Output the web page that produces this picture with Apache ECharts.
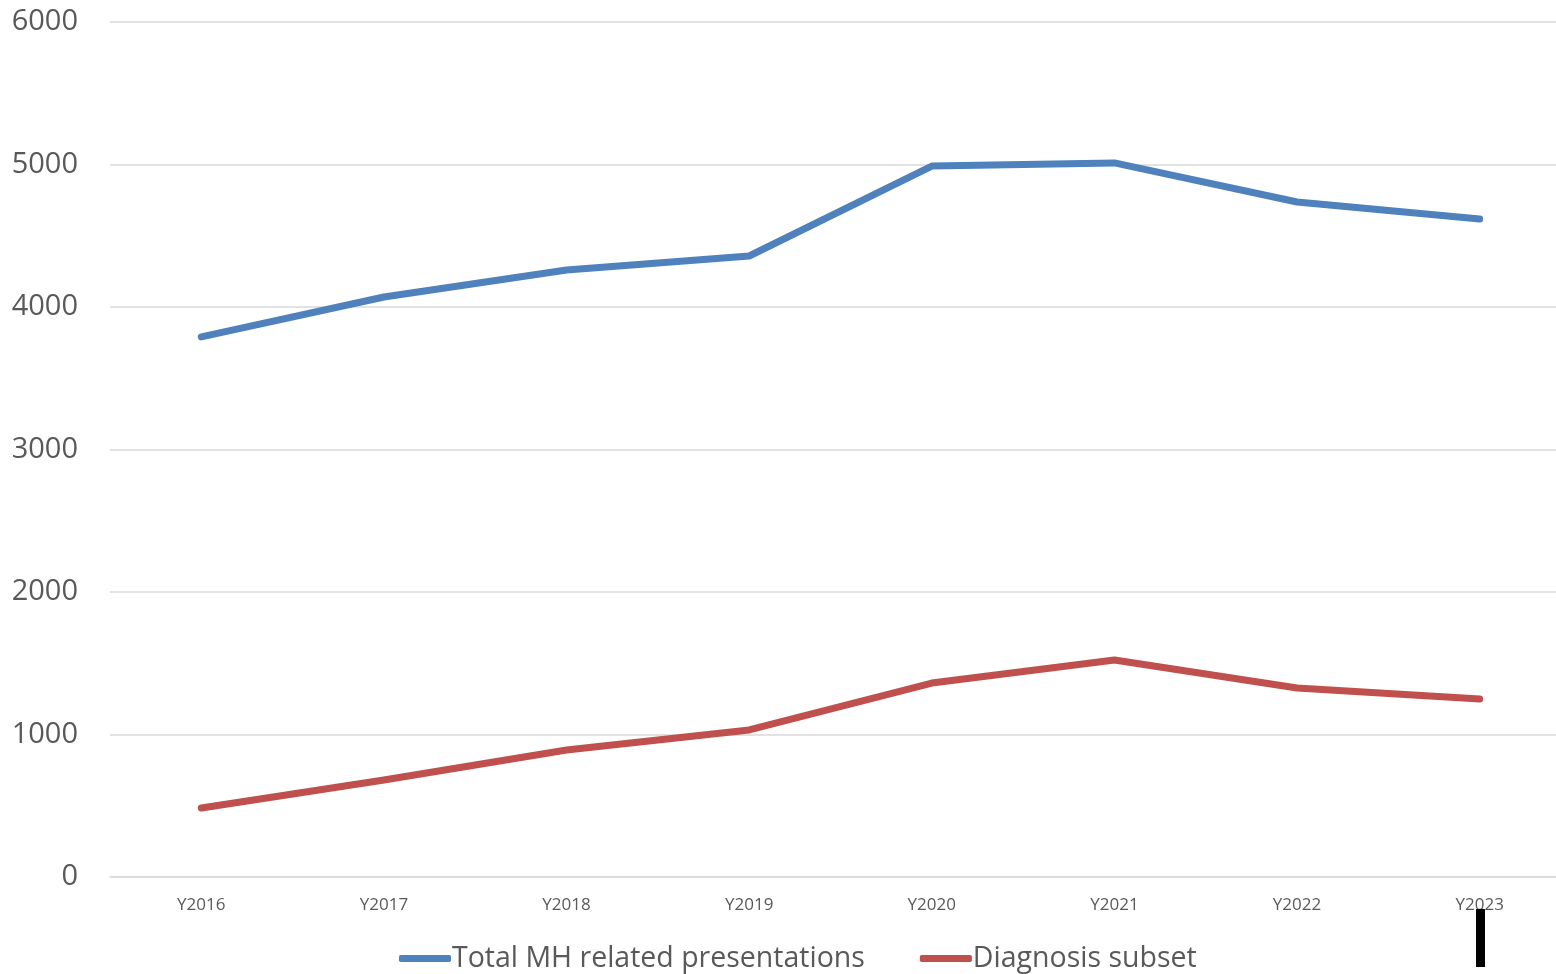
<!DOCTYPE html>
<html>
<head>
<meta charset="utf-8">
<script src="https://cdn.jsdelivr.net/npm/echarts@6/dist/echarts.min.js"></script>
<style>
  html, body { margin: 0; padding: 0; background: #fff; }
  #chart { width: 1556px; height: 974px; }
</style>
</head>
<body>
<div id="chart"></div>
<script>
const years = ["Y2016", "Y2017", "Y2018", "Y2019", "Y2020", "Y2021", "Y2022", "Y2023"];
const totalMH = [3790, 4070, 4260, 4358, 4989, 5011, 4737, 4618];
const diagnosisSubset = [484, 681, 891, 1032, 1361, 1523, 1326, 1249];

const chart = echarts.init(document.getElementById("chart"));

const font = "'Open Sans', 'Liberation Sans', sans-serif";

chart.setOption({
  animation: false,
  grid: { left: 110, right: -15, top: 22, bottom: 97, outerBoundsMode: "none" },
  legend: {
    bottom: -4,
    left: 394,
    itemWidth: 52,
    itemHeight: 7,
    itemGap: 55,
    icon: "roundRect",
    textStyle: { fontFamily: font, fontSize: 28.5, color: "#595959", padding: [0, 0, 0, -4] },
    data: ["Total MH related presentations", "Diagnosis subset"]
  },
  xAxis: {
    type: "category",
    data: years,
    boundaryGap: true,
    axisLine: { lineStyle: { color: "#d9d9d9", width: 1.5 } },
    axisTick: { show: false },
    axisLabel: { fontFamily: font, fontSize: 17, color: "#595959", margin: 20 }
  },
  yAxis: {
    type: "value",
    min: 0,
    max: 6000,
    interval: 1000,
    axisLine: { show: false },
    axisTick: { show: false },
    splitLine: { lineStyle: { color: "#d9d9d9", width: 1.5 } },
    axisLabel: {
      fontFamily: font, fontSize: 29, color: "#595959", margin: 32,
      formatter: v => String(v)
    }
  },
  series: [
    {
      name: "Total MH related presentations",
      type: "line",
      data: totalMH,
      symbol: "none",
      color: "#4f81bd",
      lineStyle: { width: 7, cap: "round", join: "round" }
    },
    {
      name: "Diagnosis subset",
      type: "line",
      data: diagnosisSubset,
      symbol: "none",
      color: "#c0504d",
      lineStyle: { width: 7, cap: "round", join: "round" }
    }
  ],
  graphic: [
    {
      type: "rect",
      shape: { x: 1476, y: 909, width: 9, height: 58 },
      style: { fill: "#000" },
      z: 100
    }
  ]
});
</script>
</body>
</html>
